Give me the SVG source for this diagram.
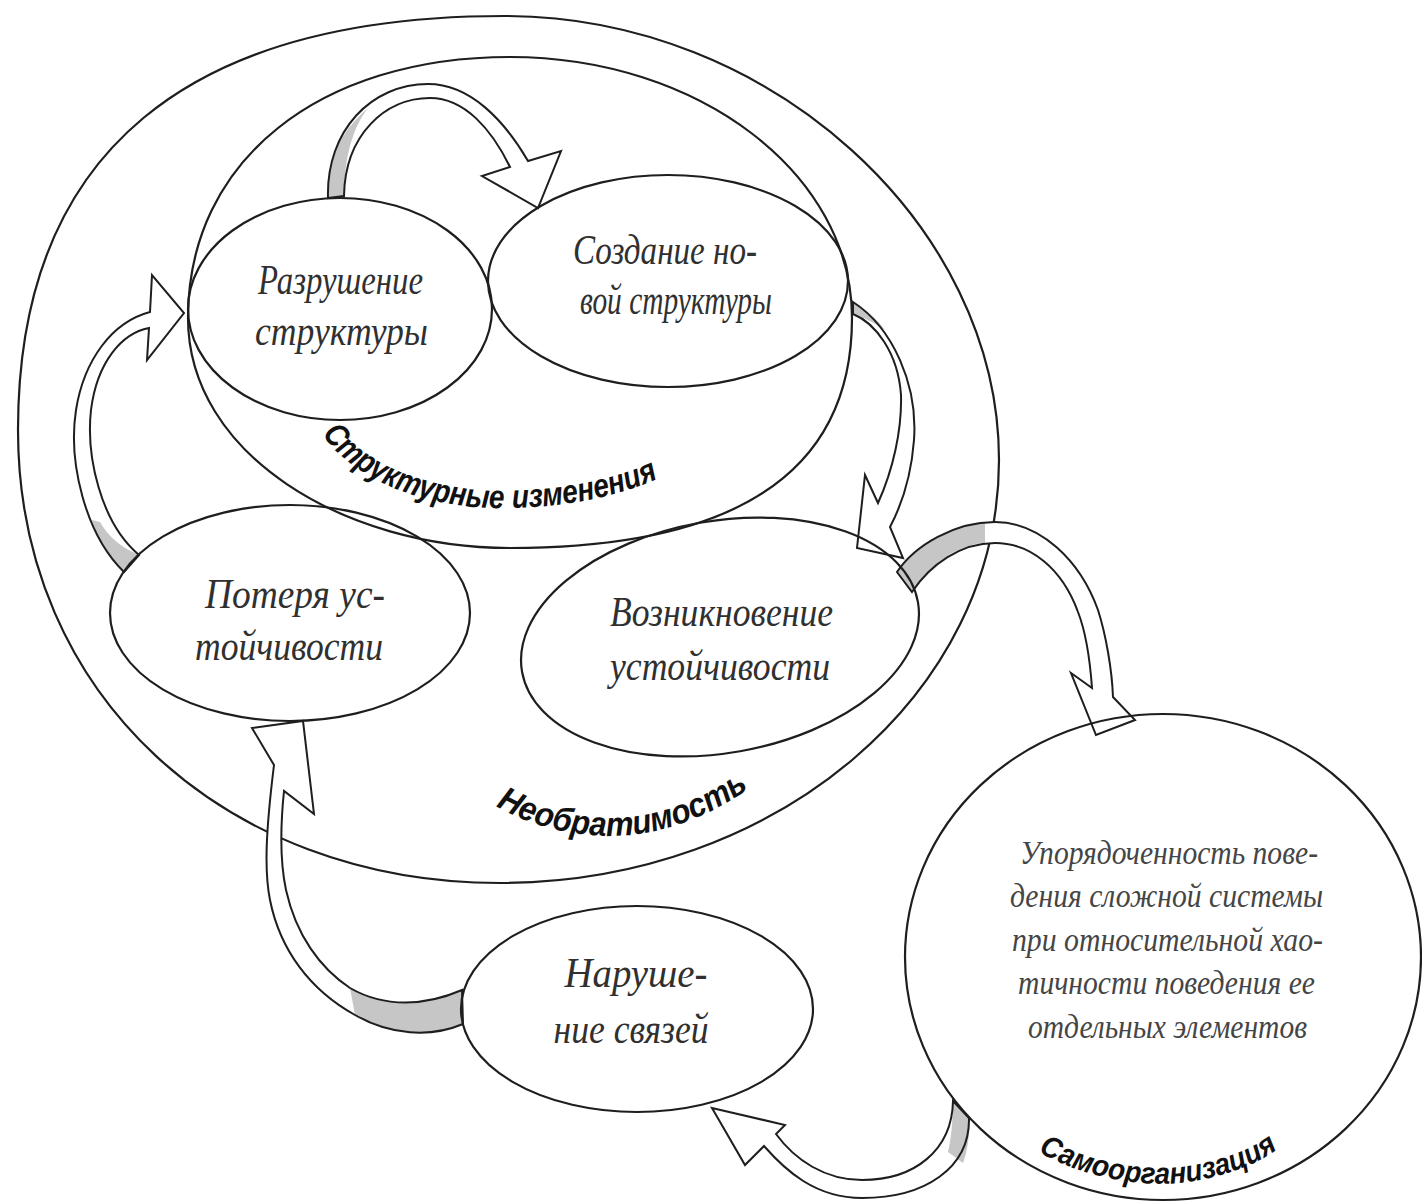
<svg xmlns="http://www.w3.org/2000/svg" width="1422" height="1202" viewBox="0 0 1422 1202">
<style>
.ln{fill:none;stroke:#1e1e1e;stroke-width:2.2}
.af{fill:#fff;stroke:none}
.as{fill:none;stroke:#1e1e1e;stroke-width:2;stroke-linejoin:miter}
.sh{fill:#c6c6c6;stroke:none}
.tx{font-family:"Liberation Serif","Times New Roman",serif;font-style:italic;fill:#303030;text-anchor:middle;font-size:43px}
.ts{font-family:"Liberation Serif","Times New Roman",serif;font-style:italic;fill:#454545;text-anchor:middle;font-size:33px}
.lb{font-family:"Liberation Sans",Arial,sans-serif;font-weight:bold;font-style:italic;fill:#111}
</style>
<defs>
<path id="aA" d="M 328,198 C 326,130 372,84 428,84 C 470,84 504,120 528,161 L 561,151 L 538,208 L 482,176 L 510,167 C 492,130 465,98 430,98 C 385,98 345,135 344,196 Z"/>
<path id="aB" d="M 124,572 C 85,534 68,462 76,410 C 84,360 112,322 150,312 L 152,275 L 184,313 L 147,360 L 149,328 C 122,333 97,362 91,410 C 86,455 100,522 139,555 Z"/>
<path id="aC" d="M 853,302 C 893,328 918,385 914,440 C 911,480 900,508 890,527 L 903,558 L 857,548 L 865,475 L 878,503 C 893,470 902,430 901,395 C 898,352 875,323 853,314 Z"/>
<path id="aD" d="M 897,572 C 915,545 955,522 995,522 C 1040,522 1080,560 1098,610 C 1106,635 1112,670 1113,697 L 1135,720 L 1096,735 L 1071,673 L 1092,688 C 1090,660 1085,630 1078,612 C 1062,568 1030,543 995,543 C 960,543 930,565 912,592 Z"/>
<path id="aE" d="M 969,1118 C 970,1168 925,1198 862,1198 C 815,1198 785,1170 764,1146 L 745,1165 L 712,1108 L 785,1125 L 776,1134 C 795,1160 825,1180 862,1180 C 915,1180 952,1150 953,1101 Z"/>
<path id="aF" d="M 463,1024 C 430,1038 390,1035 355,1015 C 310,990 280,950 270,900 C 264,870 266,830 274,765 L 252,728 L 303,721 L 314,814 L 284,791 C 280,830 280,862 286,890 C 296,935 320,968 350,988 C 385,1008 425,1006 462,990 Z"/>
<path id="pS" d="M 322,434 C 355,482 430,510 510,508 C 570,507 625,495 668,474"/>
<path id="pN" d="M 496,806 C 540,832 600,842 650,832 C 690,824 725,806 752,786"/>
<path id="pO" d="M 1038,1152 C 1090,1180 1150,1190 1200,1180 C 1240,1172 1265,1160 1290,1140"/>
</defs>
<rect width="1422" height="1202" fill="#fff"/>

<g id="irreversibility">
<path class="ln" d="M 505,16 C 770,16 999,225 999,460 C 999,694 776,883 500,883 C 225,883 18,695 18,430 C 18,150 190,16 505,16 Z"/>
<text class="lb" font-size="34"><textPath href="#pN" textLength="268" lengthAdjust="spacingAndGlyphs">Необратимость</textPath></text>
</g>

<g id="structural-changes">
<path class="ln" d="M 510,57 C 699,57 852,174 852,318 C 852,470 740,548 510,548 C 345,548 188,455 188,318 C 188,160 320,57 510,57 Z"/>
<text class="lb" font-size="33"><textPath href="#pS" textLength="362" lengthAdjust="spacingAndGlyphs">Структурные изменения</textPath></text>
</g>

<g id="connectors">
<use href="#aA" class="af"/><path class="sh" d="M 328,198 C 327,160 340,132 368,108 C 352,128 344,160 344,196 Z"/><use href="#aA" class="as"/>
<use href="#aB" class="af"/><path class="sh" d="M 124,572 C 108,556 98,540 92,520 L 100,522 C 108,536 120,547 139,555 Z"/><use href="#aB" class="as"/>
<use href="#aC" class="af"/><path class="sh" d="M 853,302 C 866,310 877,319 885,330 C 873,322 863,317 853,314 Z"/><use href="#aC" class="as"/>
<use href="#aD" class="af"/><path class="sh" d="M 897,572 C 915,545 955,522 985,522 L 985,543 C 955,545 930,565 912,592 Z"/><use href="#aD" class="as"/>
<use href="#aE" class="af"/><path class="sh" d="M 953,1101 L 969,1118 C 969.5,1135 968,1150 963,1163 L 948,1152 C 951,1140 953,1120 953,1101 Z"/><use href="#aE" class="as"/>
<use href="#aF" class="af"/><path class="sh" d="M 463,1024 C 430,1038 390,1035 355,1015 L 350,988 C 385,1008 425,1006 462,990 Z"/><use href="#aF" class="as"/>
</g>

<g id="node-destruction">
<ellipse class="ln" cx="340" cy="309" rx="152" ry="111"/>
<text class="tx" x="340.5" y="294" textLength="165" lengthAdjust="spacingAndGlyphs">Разрушение</text>
<text class="tx" x="341.5" y="345" textLength="173" lengthAdjust="spacingAndGlyphs">структуры</text>
</g>

<g id="node-creation">
<ellipse class="ln" cx="668" cy="281" rx="180" ry="106"/>
<text class="tx" x="665" y="264" textLength="184" lengthAdjust="spacingAndGlyphs">Создание но-</text>
<text class="tx" x="676" y="314" textLength="192" lengthAdjust="spacingAndGlyphs">вой структуры</text>
</g>

<g id="node-loss">
<ellipse class="ln" cx="290" cy="613" rx="180" ry="108"/>
<text class="tx" x="295" y="608" textLength="180" lengthAdjust="spacingAndGlyphs">Потеря ус-</text>
<text class="tx" x="289" y="660" textLength="188" lengthAdjust="spacingAndGlyphs">тойчивости</text>
</g>

<g id="node-emergence">
<ellipse class="ln" cx="720" cy="637" rx="201" ry="116" transform="rotate(-10 720 637)"/>
<text class="tx" x="721.5" y="626" textLength="223" lengthAdjust="spacingAndGlyphs">Возникновение</text>
<text class="tx" x="720" y="680" textLength="220" lengthAdjust="spacingAndGlyphs">устойчивости</text>
</g>

<g id="node-disruption">
<ellipse class="ln" cx="637" cy="1009" rx="176" ry="103"/>
<text class="tx" x="636" y="987" textLength="143" lengthAdjust="spacingAndGlyphs">Наруше-</text>
<text class="tx" x="631" y="1043" textLength="155" lengthAdjust="spacingAndGlyphs">ние связей</text>
</g>

<g id="node-selforganization">
<ellipse class="ln" cx="1163" cy="957" rx="258" ry="243"/>
<text class="ts" x="1169" y="864" textLength="298" lengthAdjust="spacingAndGlyphs">Упорядоченность пове-</text>
<text class="ts" x="1166.5" y="907" textLength="313" lengthAdjust="spacingAndGlyphs">дения сложной системы</text>
<text class="ts" x="1167.5" y="951" textLength="311" lengthAdjust="spacingAndGlyphs">при относительной хао-</text>
<text class="ts" x="1166.5" y="994" textLength="297" lengthAdjust="spacingAndGlyphs">тичности поведения ее</text>
<text class="ts" x="1167.5" y="1038" textLength="279" lengthAdjust="spacingAndGlyphs">отдельных элементов</text>
<text class="lb" font-size="30"><textPath href="#pO" textLength="252" lengthAdjust="spacingAndGlyphs">Самоорганизация</textPath></text>
</g>
</svg>
